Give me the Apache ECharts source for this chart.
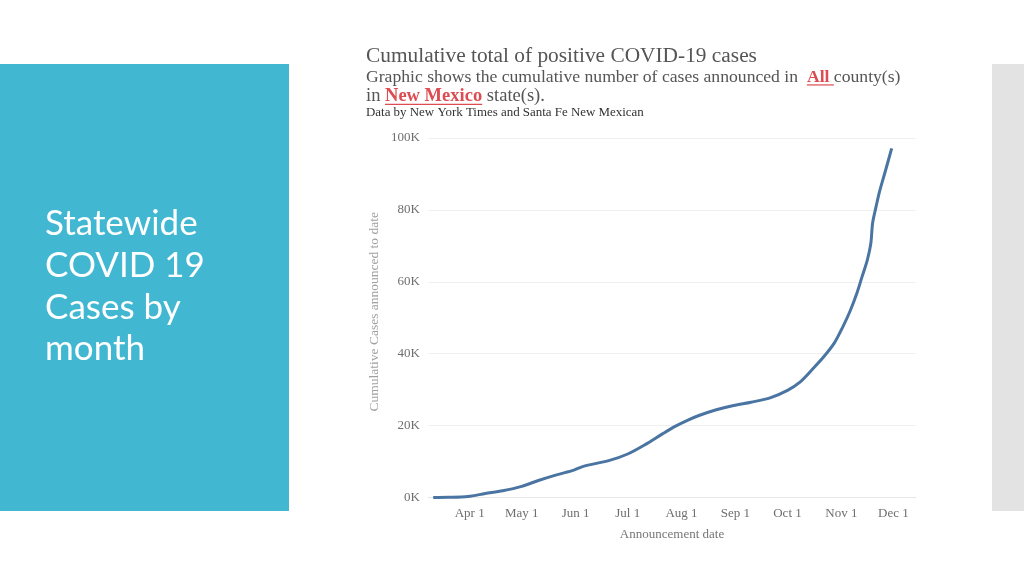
<!DOCTYPE html>
<html>
<head>
<meta charset="utf-8">
<style>
html,body{margin:0;padding:0;background:#fff;}
#chart{width:1024px;height:576px;}
</style>
<script src="https://cdn.jsdelivr.net/npm/echarts@6/dist/echarts.min.js"></script>
</head>
<body>
<div id="chart"></div>
<script>
// ---- Data ----
const dates = ['2020-03-11','2020-03-20','2020-03-31','2020-04-10','2020-04-20','2020-05-01','2020-05-11','2020-05-21','2020-05-31','2020-06-05','2020-06-21','2020-07-01','2020-07-11','2020-07-21','2020-07-28','2020-08-05','2020-08-11','2020-08-21','2020-08-31','2020-09-10','2020-09-21','2020-10-01','2020-10-08','2020-10-16','2020-10-22','2020-10-28','2020-11-02','2020-11-06','2020-11-10','2020-11-13','2020-11-16','2020-11-18','2020-11-19','2020-11-21','2020-11-23','2020-11-26','2020-11-30'];
const cases = [0,40,280,1100,1860,3100,4800,6300,7600,8600,10400,12100,14700,17700,19700,21600,22800,24400,25600,26500,27700,29800,32000,36000,39200,43000,47600,51800,56900,61500,66100,70700,76300,80900,85100,90200,97100];
const monthNames = ['Jan','Feb','Mar','Apr','May','Jun','Jul','Aug','Sep','Oct','Nov','Dec'];
const yTickLabels = ['0K','20K','40K','60K','80K','100K'];

const titleText = 'Cumulative total of positive COVID-19 cases';
const sub1 = ['Graphic shows the cumulative number of cases announced in  ', 'All', ' county(s)'];
const sub2 = ['in ', 'New Mexico', ' state(s).'];
const sourceText = 'Data by New York Times and Santa Fe New Mexican';
const sideTitle = 'Statewide\nCOVID 19\nCases by\nmonth';

// ---- text measuring helpers for title layout ----
const SERIF = '"Liberation Serif", "DejaVu Serif", serif';
const mctx = document.createElement('canvas').getContext('2d');
function tw(text, size, weight) {
  mctx.font = (weight || 'normal') + ' ' + size + 'px ' + SERIF;
  return mctx.measureText(text).width;
}
function fitSize(segs, weights, target) {
  let tot = 0;
  segs.forEach((s, i) => tot += tw(s, 100, weights[i]));
  return 100 * target / tot;
}

const graphics = [];
graphics.push({type:'rect', shape:{x:0,y:64,width:289,height:447}, style:{fill:'#41b7d1'}, silent:true});
graphics.push({type:'rect', shape:{x:992,y:64,width:32,height:447}, style:{fill:'#e3e3e3'}, silent:true});
graphics.push({type:'text', x:45, y:203, style:{text:sideTitle, fill:'#ffffff', font:'normal 35px Lato, "Open Sans", sans-serif', lineHeight:41.7, verticalAlign:'top'}, silent:true});

// main title
const tSize = fitSize([titleText], ['normal'], 391);
graphics.push({type:'text', x:366, y:56, style:{text:titleText, fill:'#555555', font:'normal ' + tSize + 'px ' + SERIF, verticalAlign:'middle'}, silent:true});

function segLine(segs, target, yMid, ext) {
  const weights = ['normal','bold','normal'];
  const size = fitSize(segs, weights, target);
  let x = 366;
  segs.forEach((s, i) => {
    const wd = tw(s, size, weights[i]);
    const isLink = i === 1;
    graphics.push({type:'text', x:x, y:yMid, style:{text:s, fill: isLink ? '#dc4c52' : '#555555', font: weights[i] + ' ' + size + 'px ' + SERIF, verticalAlign:'middle'}, silent:true});
    if (isLink) {
      graphics.push({type:'line', shape:{x1:x, y1:yMid + size*0.45, x2:x + wd + size*ext, y2:yMid + size*0.45}, style:{stroke:'#dc4c52', lineWidth:1.2}, silent:true});
    }
    x += wd;
  });
}
segLine(sub1, 535, 77, 0.25);
segLine(sub2, 179, 96, 0);

const sSize = fitSize([sourceText], ['normal'], 278);
graphics.push({type:'text', x:366, y:113, style:{text:sourceText, fill:'#333333', font:'normal ' + sSize + 'px ' + SERIF, verticalAlign:'middle'}, silent:true});

const chart = echarts.init(document.getElementById('chart'), null, {renderer:'canvas'});
chart.setOption({
  backgroundColor:'#ffffff',
  animation:false,
  graphic: graphics,
  grid:{left:428, right:108, top:138, bottom:78.5, containLabel:false},
  xAxis:{
    type:'time',
    min:'2020-03-08',
    max:'2020-12-14',
    minInterval: 28*24*3600*1000,
    maxInterval: 31*24*3600*1000,
    name:'Announcement date',
    nameLocation:'middle',
    nameGap:31,
    nameTextStyle:{color:'#777777', fontFamily:SERIF, fontSize:13},
    axisLine:{show:true, lineStyle:{color:'#e6e6e6', width:1}},
    axisTick:{show:false},
    splitLine:{show:false},
    axisLabel:{
      color:'#6e6e6e', fontFamily:SERIF, fontSize:13, margin:10, fontWeight:'normal',
      formatter:function(v){ const d = new Date(v); return monthNames[d.getMonth()] + ' ' + d.getDate(); },
      showMinLabel:false, showMaxLabel:false
    }
  },
  yAxis:{
    type:'value',
    min:0, max:100000, interval:20000,
    name:'Cumulative Cases announced to date',
    nameLocation:'middle',
    nameGap:47,
    nameTextStyle:{color:'#a0a0a0', fontFamily:SERIF, fontSize:13.5, padding:[0,0,0,12]},
    axisLine:{show:false},
    axisTick:{show:false},
    splitLine:{show:true, lineStyle:{color:'#f0f0f0', width:1}},
    axisLabel:{color:'#6e6e6e', fontFamily:SERIF, fontSize:13, margin:8,
      formatter:function(v){ return yTickLabels[Math.round(v/20000)]; }}
  },
  series:[{
    type:'line',
    data: dates.map((d,i)=>[d, cases[i]]),
    showSymbol:false,
    smooth:0.3,
    lineStyle:{color:'#4a74a2', width:3},
    itemStyle:{color:'#4a74a2'}
  }]
});
</script>
</body>
</html>
